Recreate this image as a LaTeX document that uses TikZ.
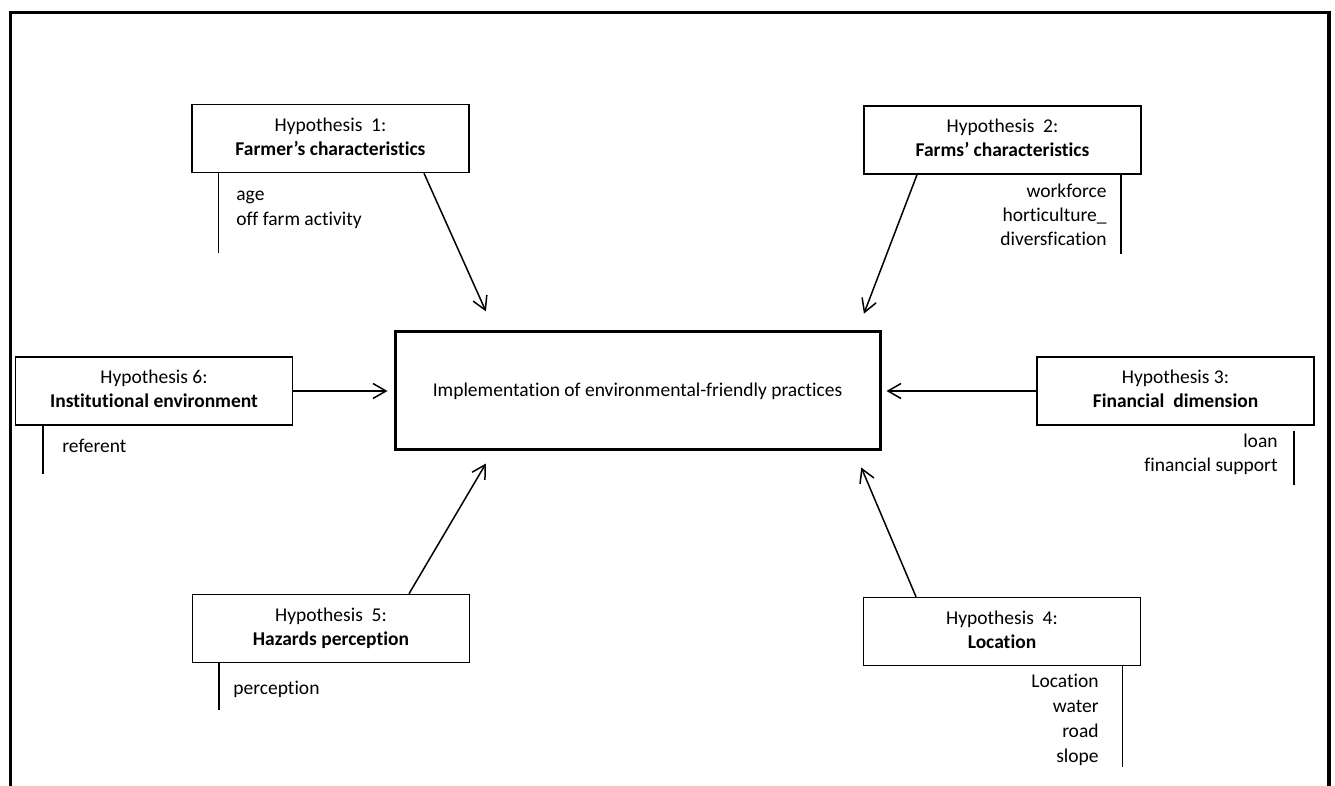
\documentclass[tikz,border=0pt]{standalone}
\usepackage{fontspec}
\setmainfont{Carlito}[Ligatures=NoCommon]
\usepackage{tikz}
\usetikzlibrary{positioning}
\usetikzlibrary{arrows.meta}
\usetikzlibrary{calc}
\tikzstyle{arrow}=[-{Straight Barb[length=6.5pt,width=7.5pt]},line width=0.75pt]
\tikzstyle{hyp}=[draw,line width=0.75pt,minimum width=138.5pt,minimum height=34pt,align=center,inner sep=0pt,
	font=\fontsize{9.75}{12}\selectfont]
\tikzstyle{listl}=[anchor=base west,inner sep=0pt]
\tikzstyle{listr}=[anchor=base east,inner sep=0pt]
\tikzstyle{tick}=[line width=0.75pt]
\newcommand{\lpad}{\rule[-2.2pt]{0pt}{0pt}}

\begin{document}
\begin{tikzpicture}[x=0.5pt,y=-0.5pt,font=\fontsize{9.75}{11.75}\selectfont]
		\useasboundingbox (0,0) rectangle (1335,786);
		\draw[line width=1.6pt] (10.5,786)--(10.5,12.5)--(1329,12.5)--(1329,786);
		% centre box
		\node[draw,line width=1.5pt,minimum width=242.5pt,minimum height=59pt] (main) at (637.5,391)
			{Implementation of environmental-friendly practices};
		% hypotheses
		\node[hyp] (h1) at (330.5,138.5) {Hypothesis\ \ 1:\\\textbf{Farmer’s characteristics}\lpad};
		\node[hyp] (h2) at (1002.5,140) {Hypothesis\ \ 2:\\\textbf{Farms’ characteristics}\lpad};
		\node[hyp] (h3) at (1175.5,391) {Hypothesis 3:\\\textbf{Financial\ \ dimension}\lpad};
		\node[hyp] (h4) at (1002,631.5) {Hypothesis\ \ 4:\\\textbf{Location}\lpad};
		\node[hyp] (h5) at (331,628.5) {Hypothesis\ \ 5:\\\textbf{Hazards perception}\lpad};
		\node[hyp] (h6) at (154,391) {Hypothesis 6:\\\textbf{Institutional environment}\lpad};
		% arrows
		\draw[arrow,shorten >=10.5pt] ($(h1.south)+(93.5,0)$)--($(main.north)+(-143,0)$);
		\draw[arrow,shorten >=9pt] ($(h2.south)+(-85.5,0)$)--($(main.north)+(220,0)$);
		\draw[arrow,shorten >=2.5pt] (h3.west)--(main.east);
		\draw[arrow,shorten >=8.7pt] ($(h4.north)+(-86,0)$)--($(main.south)+(217,0)$);
		\draw[arrow,shorten >=7pt] ($(h5.north)+(78,0)$)--($(main.south)+(-144.5,0)$);
		\draw[arrow,shorten >=3pt] (h6.east)--(main.west);
		% variable lists
		\draw[tick] ($(h1.south west)+(27,0)$)--++(0,80);
		\foreach \t [count=\i] in {age,off farm activity} {
			\node[listl] (h1l\i) at (236,{201+24.5*(\i-1)}) {\t};}
		\draw[tick] ($(h2.south east)+(-21,0)$)--++(0,79);
		\foreach \t [count=\i] in {workforce,horticulture\_,diversfication} {
			\node[listr] (h2l\i) at (1107,{198+24*(\i-1)}) {\t};}
		\draw[tick] ($(h3.south east)+(-21,5)$)--++(0,54);
		\foreach \t [count=\i] in {loan,financial support} {
			\node[listr] (h3l\i) at (1278,{448+24*(\i-1)}) {\t};}
		\draw[tick] ($(h4.south east)+(-19,0)$)--++(0,101);
		\foreach \t [count=\i] in {Location,water,road,slope} {
			\node[listr] (h4l\i) at (1099,{687+25*(\i-1)}) {\t};}
		\draw[tick] ($(h5.south west)+(27,0)$)--++(0,47);
		\node[listl] (h5l1) at (233,694) {perception};
		\draw[tick] ($(h6.south west)+(28,0)$)--++(0,48);
		\node[listl] (h6l1) at (62,452) {referent};
	\end{tikzpicture}
\end{document}
